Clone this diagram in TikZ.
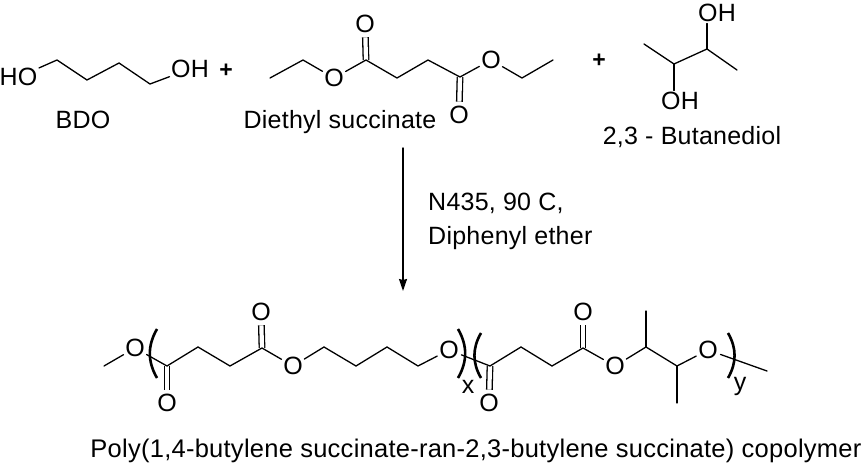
\documentclass[tikz,border=0pt]{standalone}
\usepackage{fontspec}
\setmainfont{Liberation Sans}[LetterSpace=1]
\usetikzlibrary{arrows.meta}

\begin{document}
\begin{tikzpicture}
		[x=1pt,y=-1pt,line cap=round,
		%Styles
		every node/.style={font=\fontsize{25}{29}\selectfont},
		atom/.style={inner sep=1.5pt},
		ring atom/.style={circle,inner sep=0pt,minimum size=25pt},
		name text/.style={inner sep=0pt},
		plus sign/.style={font=\fontsize{23}{27}\selectfont\bfseries,inner sep=0pt},
		bond/.style={line width=1.3pt,line join=miter},
		double bond/.style={line width=1.3pt,double=white,double distance=4.2pt,line cap=butt},
		bracket/.style={line width=2.6pt,line cap=butt}
		]
		\useasboundingbox (0,0) rectangle (865,465);
		
		%Butanediol on the left
		\node[atom] (ho1) at (18.5,77) {HO};
		\node[atom] (oh1) at (190,69) {OH};
		\coordinate (b1) at (57,60);
		\coordinate (b2) at (87,80);
		\coordinate (b3) at (119,63);
		\coordinate (b4) at (150,84);
		\draw[bond] (ho1) -- (b1) -- (b2) -- (b3) -- (b4) -- (oh1);
		\node[name text] (bdo) at (83,120) {BDO};
		\node[plus sign] (plus1) at (226,71) {+};
		
		%Diethyl succinate
		\node[ring atom] (o1) at (334,78) {O};
		\node[ring atom] (o2) at (365,24) {O};
		\node[ring atom] (o3) at (491,60) {O};
		\node[ring atom] (o4) at (459,115) {O};
		\coordinate (d1) at (270,78);
		\coordinate (d2) at (303,60);
		\coordinate (d3) at (366,60);
		\coordinate (d4) at (397,78);
		\coordinate (d5) at (428,60);
		\coordinate (d6) at (460,77);
		\coordinate (d7) at (522,78);
		\coordinate (d8) at (553,60);
		\draw[double bond] (d3) -- (o2);
		\draw[double bond] (d6) -- (o4);
		\draw[bond] (d1) -- (d2) -- (o1) -- (d3) -- (d4) -- (d5) -- (d6) -- (o3) -- (d7) -- (d8);
		\node[name text] (des) at (340,122.5) {Diethyl succinate};
		\node[plus sign] (plus2) at (599,61) {+};
		
		%2,3 - Butanediol
		\node[atom] (oh2) at (717,13) {OH};
		\node[atom] (oh3) at (680,101) {OH};
		\coordinate (c1) at (644,44);
		\coordinate (c2) at (674,64);
		\coordinate (c3) at (707,49);
		\coordinate (c4) at (737,70);
		\draw[bond] (c1) -- (c2) -- (c3) -- (c4);
		\draw[bond] (c3) -- (c3 |- oh2.south);
		\draw[bond] (c2) -- (c2 |- oh3.north);
		\node[name text] (bud) at (692,137) {2,3 - Butanediol};
		
		%Reaction arrow
		\coordinate (arrowtop) at (403,148);
		\coordinate (arrowtip) at (403,291);
		\draw[line width=1.4pt,-{Stealth[length=12pt,width=8pt,inset=1pt]}] (arrowtop) -- (arrowtip);
		\node[name text,anchor=west] (cond1) at (428,203) {N435, 90 C,};
		\node[name text,anchor=west] (cond2) at (428,238.5) {Diphenyl ether};
		
		%The copolymer
		\node[ring atom] (p1) at (135,348) {O};
		\node[ring atom] (p2) at (167,403) {O};
		\node[ring atom] (p3) at (261,312) {O};
		\node[ring atom] (p4) at (293,366) {O};
		\node[ring atom] (p5) at (449,350) {O};
		\node[ring atom] (p6) at (489,403) {O};
		\node[ring atom] (p7) at (583,312) {O};
		\node[ring atom] (p8) at (615,366) {O};
		\node[ring atom] (p9) at (708,350) {O};
		\coordinate (m1) at (104,366);
		\coordinate (m2) at (167,366);
		\coordinate (m3) at (198,347);
		\coordinate (m4) at (230,366);
		\coordinate (m5) at (262,348);
		\coordinate (m6) at (324,347);
		\coordinate (m7) at (356,366);
		\coordinate (m8) at (387,347);
		\coordinate (m9) at (418,366);
		\coordinate (m10) at (490,366);
		\coordinate (m11) at (521,347);
		\coordinate (m12) at (552,366);
		\coordinate (m13) at (583,348);
		\coordinate (m14) at (646,347);
		\coordinate (m15) at (646,311);
		\coordinate (m16) at (677,366);
		\coordinate (m17) at (677,403);
		\coordinate (m18) at (767,371);
		\draw[double bond] (m2) -- (p2);
		\draw[double bond] (m5) -- (p3);
		\draw[double bond] (m10) -- (p6);
		\draw[double bond] (m13) -- (p7);
		\draw[bond] (m1) -- (p1) -- (m2) -- (m3) -- (m4) -- (m5) -- (p4) -- (m6) -- (m7) -- (m8) -- (m9) -- (p5) -- (m10) -- (m11) -- (m12) -- (m13) -- (p8) -- (m14) -- (m16) -- (p9) -- (m18);
		\draw[bond] (m14) -- (m15);
		\draw[bond] (m16) -- (m17);
		
		%Brackets
		\coordinate (k1) at (157,329);
		\coordinate (k2) at (157,378);
		\coordinate (k3) at (458,329);
		\coordinate (k4) at (458,378);
		\coordinate (k5) at (481,333);
		\coordinate (k6) at (481,378);
		\coordinate (k7) at (728,333);
		\coordinate (k8) at (728,378);
		\draw[bracket] (k1) to[bend right] (k2);
		\draw[bracket] (k3) to[bend left] (k4);
		\draw[bracket] (k5) to[bend right] (k6);
		\draw[bracket] (k7) to[bend left] (k8);
		\node[name text] (xlab) at (468,387) {x};
		\node[name text] (ylab) at (740,386) {y};
		
		\node[name text,font=\fontsize{25.5}{29}\selectfont] (title) at (476,451) {Poly(1,4-butylene succinate-ran-2,3-butylene succinate) copolymer};
	\end{tikzpicture}
\end{document}
